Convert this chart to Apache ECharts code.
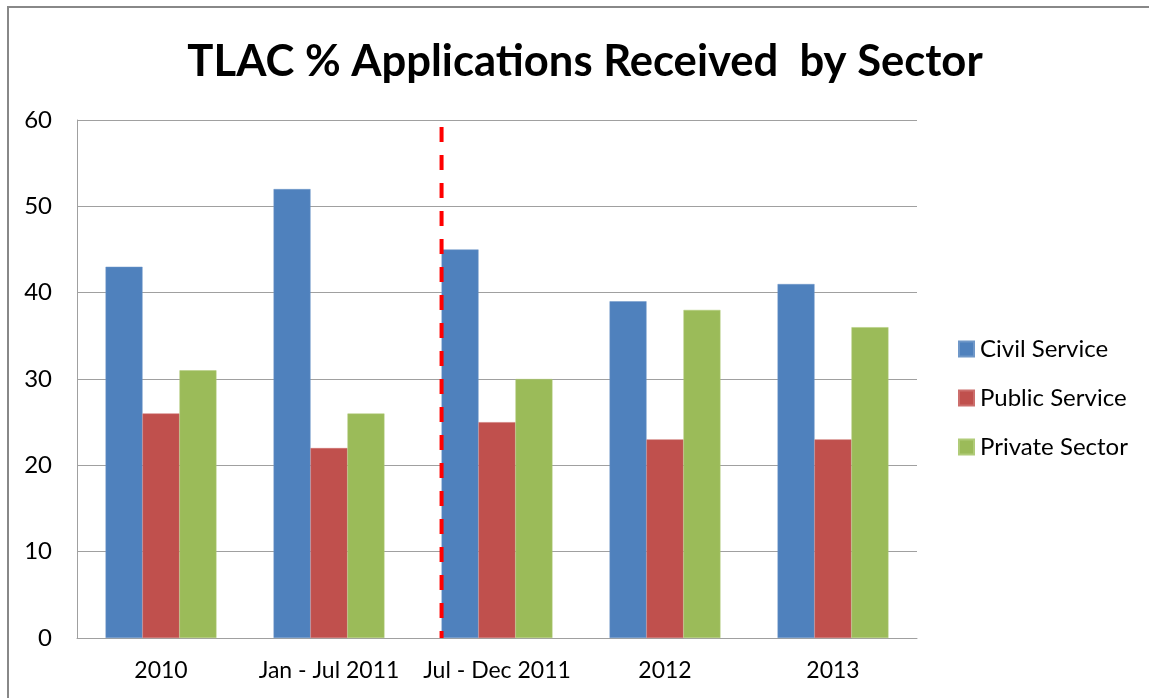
<!DOCTYPE html>
<html>
<head>
<meta charset="utf-8">
<script src="https://cdn.jsdelivr.net/npm/echarts@6/dist/echarts.min.js"></script>
<style>
html,body{margin:0;padding:0;background:#fff;}
#chart{width:1149px;height:698px;}
</style>
</head>
<body>
<div id="chart"></div>
<script>
var categories = ['2010', 'Jan - Jul 2011', 'Jul - Dec 2011', '2012', '2013'];
var civilService = [43, 52, 45, 39, 41];
var publicService = [26, 22, 25, 23, 23];
var privateSector = [31, 26, 30, 38, 36];
var yTicks = [0, 10, 20, 30, 40, 50, 60];
// divider drawn at left edge of the "Jul - Dec 2011" group
var dividerCategoryIndex = 2;
var dividerTop = 59.2;

var gapFrac = 0.34;
var dividerX = dividerCategoryIndex + gapFrac / 2;

var chart = echarts.init(document.getElementById('chart'));
var font = 'Lato, "Open Sans", sans-serif';
var option = {
  backgroundColor: '#fff',
  animation: false,
  title: {
    text: 'TLAC % Applications Received  by Sector',
    left: 580, textAlign: 'center', top: 35,
    textStyle: {fontFamily: font, fontWeight: 'bold', fontSize: 43.6, color: '#000'}
  },
  graphic: [{
    type: 'rect', shape: {x: 8, y: 7, width: 1160, height: 720},
    style: {fill: 'none', stroke: '#888', lineWidth: 2}, silent: true
  }],
  legend: {
    orient: 'vertical', left: 958, top: 337, padding: 0, itemWidth: 15, itemHeight: 15, itemGap: 25,
    icon: 'rect',
    textStyle: {fontFamily: font, fontSize: 24, color: '#000', padding: [0, 0, 0, 1]},
    data: ['Civil Service', 'Public Service', 'Private Sector']
  },
  grid: {left: 77, right: 232, top: 120, bottom: 60, containLabel: false},
  xAxis: [{
    type: 'category', data: categories,
    axisLine: {lineStyle: {color: '#a0a0a0', width: 1}},
    axisTick: {show: false},
    axisLabel: {fontFamily: font, fontSize: 23, color: '#000', margin: 21, interval: 0}
  }, {
    type: 'value', min: 0, max: categories.length, show: false
  }],
  yAxis: {
    type: 'value', min: yTicks[0], max: yTicks[yTicks.length - 1], interval: 10,
    axisLine: {show: true, lineStyle: {color: '#a0a0a0', width: 1}},
    axisTick: {show: false},
    splitLine: {lineStyle: {color: '#a0a0a0', width: 1}},
    axisLabel: {fontFamily: font, fontSize: 24, color: '#000', margin: 25}
  },
  series: [
    {name: 'Civil Service', type: 'bar', data: civilService, barGap: '0%', barCategoryGap: (gapFrac * 100) + '%',
     itemStyle: {color: '#4F81BD', borderColor: '#6f97c8', borderWidth: 0.5}},
    {name: 'Public Service', type: 'bar', data: publicService,
     itemStyle: {color: '#C0504D', borderColor: '#cc6e6c', borderWidth: 0.5}},
    {name: 'Private Sector', type: 'bar', data: privateSector,
     itemStyle: {color: '#9BBB59', borderColor: '#b0cb78', borderWidth: 0.5}},
    {name: 'divider', type: 'line', xAxisIndex: 1, z: 5, symbol: 'none',
     data: [[dividerX, dividerTop], [dividerX, 0]],
     lineStyle: {color: '#ff0000', width: 4, type: [15, 13]}}
  ]
};
chart.setOption(option);
</script>
</body>
</html>
